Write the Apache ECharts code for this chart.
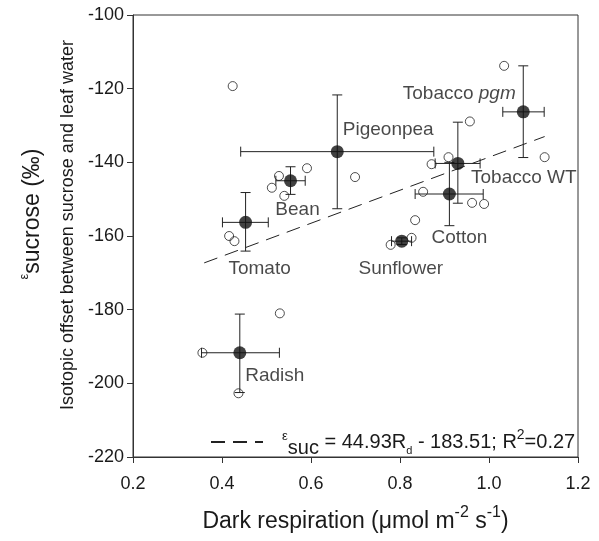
<!DOCTYPE html>
<html><head><meta charset="utf-8">
<script src="https://cdn.jsdelivr.net/npm/echarts@6/dist/echarts.min.js"></script>
<style>html,body{margin:0;padding:0;background:#fff}#c{width:599px;height:541px}</style>
</head><body><div id="c"></div>
<script>
// ---- data ----
const species  = ['Tomato','Bean','Pigeonpea','Tobacco WT','Cotton','Sunflower','Tobacco pgm','Radish'];
const meanRd   = [0.453, 0.554, 0.659, 0.930, 0.911, 0.804, 1.077, 0.440];
const meanEps  = [-156.3, -145.0, -137.1, -140.3, -148.6, -161.4, -126.3, -191.7];
const rdLow    = [0.401, 0.521, 0.442, 0.879, 0.834, 0.781, 1.031, 0.354];
const rdHigh   = [0.504, 0.587, 0.876, 0.980, 0.987, 0.826, 1.124, 0.529];
const epsLow   = [-164.1, -148.7, -152.6, -151.1, -157.2, -162.3, -138.7, -202.5];
const epsHigh  = [-148.2, -141.2, -121.7, -129.1, -140.0, -160.5, -113.8, -181.2];

const indivRd  = [0.424,0.591,0.528,0.512,0.540,0.699,0.416,0.428,0.779,1.034,0.957,0.871,0.909,1.125,0.852,0.962,0.989,0.834,0.826,0.530,0.356,0.437];
const indivEps = [-119.3,-141.6,-143.7,-146.9,-149.1,-144.0,-160.0,-161.4,-162.4,-113.8,-128.9,-140.5,-138.6,-138.6,-148.0,-151.0,-151.3,-155.7,-160.5,-181.0,-191.7,-202.7];

const fitRd  = [0.36, 1.125];
const fitEps = [-167.3, -133.0];

const xTicks = [0.2, 0.4, 0.6, 0.8, 1.0, 1.2];
const yTicks = [-220, -200, -180, -160, -140, -120, -100];

// ---- styles ----
const FONT = '"Liberation Sans", Arial, sans-serif';
const INK = '#1a1a1a';
const labelOffsets = [[14,46],[7,29],[51,-22],[66,14],[10,44],[-1,28],[-64,-18],[35,23]];

const chart = echarts.init(document.getElementById('c'), null, {renderer:'canvas'});

const errData = species.map((s,i)=>[meanRd[i], meanEps[i], rdLow[i], rdHigh[i], epsLow[i], epsHigh[i]]);

const option = {
  backgroundColor:'#fff',
  animation:false,
  textStyle:{fontFamily:FONT, color:INK},
  grid:{left:133, right:21, top:15, bottom:84, show:true, borderColor:'#333', borderWidth:1, backgroundColor:'transparent'},
  legend:{
    data:['fit'], left:205, top:423, itemWidth:52, itemHeight:14, selectedMode:false,
    itemStyle:{opacity:0},
    formatter:()=> '{g|}{e|ε}{s|suc}{n| = 44.93R}{d|d}{n| - 183.51; R}{p|2}{n|=0.27}',
    textStyle:{fontFamily:FONT, color:INK, fontSize:20,
      rich:{
        g:{width:14},
        n:{fontSize:20, lineHeight:28, verticalAlign:'middle', fontFamily:FONT, color:INK},
        e:{fontSize:13, lineHeight:28, verticalAlign:'top', padding:[2,0,0,0], fontFamily:FONT, color:INK},
        s:{fontSize:20, lineHeight:28, verticalAlign:'bottom', padding:[0,0,-2,0], fontFamily:FONT, color:INK},
        d:{fontSize:11, lineHeight:28, verticalAlign:'bottom', fontFamily:FONT, color:INK},
        p:{fontSize:14, lineHeight:28, verticalAlign:'top', fontFamily:FONT, color:INK}
      }}
  },
  xAxis:{
    type:'value', min:0.2, max:1.2, interval:0.2,
    axisLine:{show:true, onZero:false, lineStyle:{color:'#333', width:1}},
    axisTick:{show:true, inside:false, length:6, lineStyle:{color:'#333'}},
    splitLine:{show:false},
    axisLabel:{fontSize:18, color:INK, margin:18, fontFamily:FONT,
      formatter:v=>{const t=xTicks.find(k=>Math.abs(k-v)<1e-6); return t===undefined?'':t.toFixed(1);}},
    name:'{n|Dark respiration (μmol m}{p|-2}{n| s}{p|-1}{n|)}',
    nameLocation:'middle', nameGap:48, nameMoveOverlap:false,
    nameTextStyle:{fontFamily:FONT, color:INK, rich:{
      n:{fontSize:23, lineHeight:28, verticalAlign:'bottom', fontFamily:FONT, color:INK},
      p:{fontSize:16, lineHeight:28, verticalAlign:'top', fontFamily:FONT, color:INK}
    }}
  },
  yAxis:{
    type:'value', min:-220, max:-100, interval:20,
    axisLine:{show:true, onZero:false, lineStyle:{color:'#333', width:1}},
    axisTick:{show:true, inside:false, length:6, lineStyle:{color:'#333'}},
    splitLine:{show:false},
    axisLabel:{fontSize:18, color:INK, margin:9, fontFamily:FONT,
      formatter:v=>{const t=yTicks.find(k=>Math.abs(k-v)<1e-6); return t===undefined?'':String(t);}},
    name:'{e|ε}{s|sucrose (‰)}\n{t|Isotopic offset between sucrose and leaf water}',
    nameLocation:'middle', nameRotate:90, nameGap:48, nameMoveOverlap:false,
    nameTextStyle:{fontFamily:FONT, color:INK, rich:{
      e:{fontSize:13, lineHeight:13, verticalAlign:'middle', padding:[0,0,18,44], fontFamily:FONT, color:INK},
      s:{fontSize:23, lineHeight:36, verticalAlign:'middle', fontFamily:FONT, color:INK},
      t:{fontSize:18, lineHeight:34, padding:[0,0,0,22], fontFamily:FONT, color:INK}
    }}
  },
  series:[
    {
      name:'fit', type:'line', data:fitRd.map((x,i)=>[x, fitEps[i]]),
      symbol:'none', lineStyle:{color:'#222', width:1, type:[14,8]}, z:1, silent:true
    },
    {
      name:'errors', type:'custom', data:errData, z:2, silent:true,
      renderItem:(params, api)=>{
        const x=api.value(0), y=api.value(1);
        const c=api.coord([x,y]);
        const xl=api.coord([api.value(2),y]), xh=api.coord([api.value(3),y]);
        const yl=api.coord([x,api.value(4)]), yh=api.coord([x,api.value(5)]);
        const cap=5;
        const st={stroke:'#222', lineWidth:1};
        return {type:'group', children:[
          {type:'line', shape:{x1:xl[0],y1:c[1],x2:xh[0],y2:c[1]}, style:st},
          {type:'line', shape:{x1:xl[0],y1:c[1]-cap,x2:xl[0],y2:c[1]+cap}, style:st},
          {type:'line', shape:{x1:xh[0],y1:c[1]-cap,x2:xh[0],y2:c[1]+cap}, style:st},
          {type:'line', shape:{x1:c[0],y1:yl[1],x2:c[0],y2:yh[1]}, style:st},
          {type:'line', shape:{x1:c[0]-cap,y1:yl[1],x2:c[0]+cap,y2:yl[1]}, style:st},
          {type:'line', shape:{x1:c[0]-cap,y1:yh[1],x2:c[0]+cap,y2:yh[1]}, style:st}
        ]};
      }
    },
    {
      name:'individual', type:'scatter', data:indivRd.map((x,i)=>[x, indivEps[i]]),
      symbol:'circle', symbolSize:9, z:3, silent:true,
      itemStyle:{color:'rgba(255,255,255,0)', borderColor:'#222', borderWidth:1}
    },
    {
      name:'means', type:'scatter', z:4, silent:true,
      data:species.map((s,i)=>({
        value:[meanRd[i], meanEps[i]],
        label:{offset:labelOffsets[i],
          formatter: s==='Tobacco pgm' ? '{n|Tobacco }{i|pgm}' : '{n|'+s+'}'}
      })),
      symbol:'circle', symbolSize:13,
      itemStyle:{color:'#111', borderColor:'#111', borderWidth:0},
      label:{show:true, position:'inside', align:'center', verticalAlign:'middle',
        rich:{
          n:{fontSize:19, fontFamily:FONT, color:INK},
          i:{fontSize:19, fontFamily:FONT, color:INK, fontStyle:'italic'}
        }}
    }
  ]
};
chart.setOption(option);
</script>
</body></html>
